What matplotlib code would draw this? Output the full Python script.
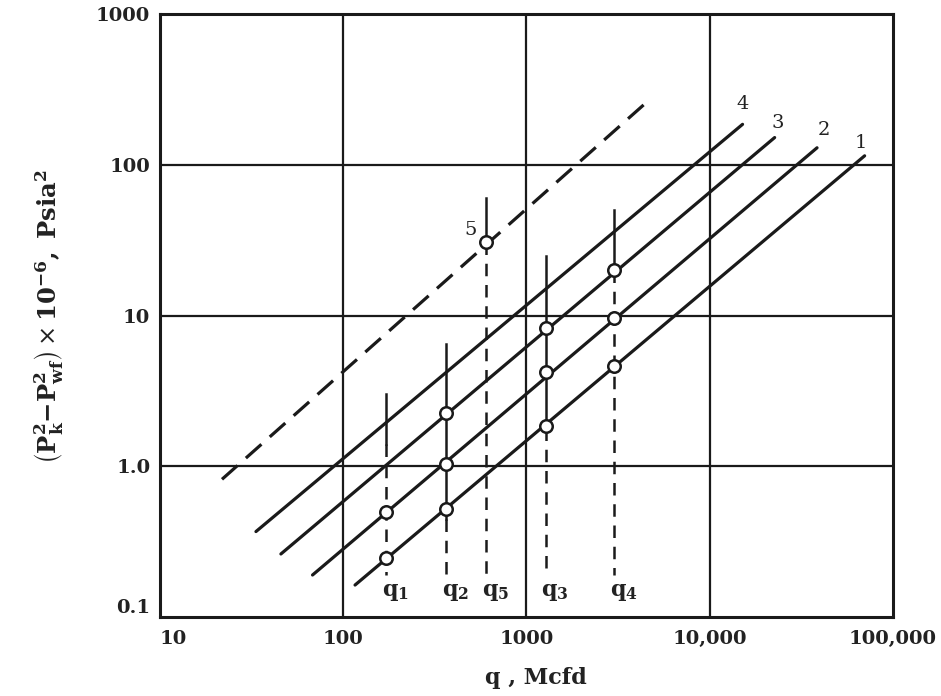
import matplotlib
matplotlib.use("Agg")
import matplotlib.pyplot as plt

# ---------------- data ----------------
x_ticks = [10, 100, 1000, 10000, 100000]
x_tick_labels = ['10', '100', '1000', '10,000', '100,000']
y_ticks = [0.1, 1, 10, 100, 1000]
y_tick_labels = ['0.1', '1.0', '10', '100', '1000']

# straight back-pressure lines 1-4: start and end (q, Mcfd ; p2-diff, 1e6 psia^2)
line_names = ['1', '2', '3', '4']
line_q_start = [116, 68, 45.7, 33.4]
line_p_start = [0.163, 0.19, 0.262, 0.369]
line_q_end = [70000, 38500, 22600, 15100]
line_p_end = [115, 130, 152, 186]
# dashed line 5
line5_q = [21.8, 4640]
line5_p = [0.82, 268]

# measured points (open circles)
pts_q = [172, 172, 366, 366, 366, 1270, 1270, 1270, 3020, 3020, 3020, 600]
pts_p = [0.245, 0.50, 0.52, 1.03, 2.27, 1.86, 4.2, 8.3, 4.6, 9.7, 20, 31]

# vertical rate markers q1..q5
rate_labels = ['1', '2', '5', '3', '4']
rate_q = [172, 366, 600, 1270, 3020]
rate_solid_top = [3.0, 6.5, 60, 25, 50]
rate_dash_top = [1.4, 0.45, 31, 1.8, 20]
rate_bottom = [0.19, 0.19, 0.19, 0.19, 0.19]

# ---------------- figure ----------------
plt.rcParams['mathtext.fontset'] = 'dejavuserif'
fig = plt.figure(figsize=(9.41, 6.96), dpi=100)
ax = fig.add_axes([0.170, 0.1135, 0.779, 0.866])
ax.set_xscale('log')
ax.set_yscale('log')
ax.set_xlim(10, 100000)
ax.set_ylim(0.1, 1000)

for s in ax.spines.values():
    s.set_linewidth(2.2)
    s.set_color('#1a1a1a')

for xv in x_ticks[1:-1]:
    ax.axvline(xv, color='#1a1a1a', lw=1.6, zorder=1)
for yv in y_ticks[1:-1]:
    ax.axhline(yv, color='#1a1a1a', lw=1.6, zorder=1)

ax.set_xticks(x_ticks)
ax.set_xticklabels(x_tick_labels)
ax.set_yticks(y_ticks)
ax.set_yticklabels(y_tick_labels)
ax.minorticks_off()
ax.tick_params(length=0, pad=9)
ax.tick_params(axis='y', pad=7)
for lab in ax.get_xticklabels() + ax.get_yticklabels():
    lab.set_fontfamily('DejaVu Serif')
    lab.set_fontweight('bold')
    lab.set_fontsize(14)
    lab.set_color('#222222')
ax.get_xticklabels()[0].set_ha('left')
ax.get_yticklabels()[0].set_va('bottom')

lc = '#1a1a1a'
for q0, p0, q1, p1 in zip(line_q_start, line_p_start, line_q_end, line_p_end):
    ax.plot([q0, q1], [p0, p1], color=lc, lw=2.3, solid_capstyle='round', zorder=3)
ax.plot(line5_q, line5_p, color=lc, lw=2.3, linestyle=(0, (6.5, 3.5)), zorder=3)

# vertical rate lines
for q, st, dt, bt in zip(rate_q, rate_solid_top, rate_dash_top, rate_bottom):
    ax.plot([q, q], [st, dt], color=lc, lw=1.8, zorder=2)
    ax.plot([q, q], [dt, bt], color=lc, lw=1.8, linestyle=(0, (5, 3.5)), zorder=2)

ax.plot(pts_q, pts_p, linestyle='none', marker='o', markersize=9,
        markerfacecolor='white', markeredgecolor=lc, markeredgewidth=1.8, zorder=5)

# q labels
for lab, q in zip(rate_labels, rate_q):
    ax.annotate(r'$\mathbf{q}_{\mathbf{%s}}$' % lab, (q, 0.19), xytext=(-3, -5),
                textcoords='offset points', ha='left', va='top', fontsize=16,
                color='#222222')

# line number labels
serif = dict(fontfamily='DejaVu Serif', fontsize=14, color='#222222',
             ha='center', va='bottom')
offsets = [(-3, 3), (5, 6), (2, 4), (0, 8)]
for name, q, p, off in zip(line_names, line_q_end, line_p_end, offsets):
    ax.annotate(name, (q, p), xytext=off, textcoords='offset points', **serif)
ax.annotate('5', (pts_q[-1], pts_p[-1]), xytext=(-11, 2), textcoords='offset points', **serif)

# axis labels
fig.text(0.569, 0.026, r'q , Mcfd', fontfamily='DejaVu Serif', fontweight='bold',
         fontsize=16, ha='center', va='center', color='#222222')
fig.text(0.052, 0.545,
         r'$\left(\mathbf{P}_{\mathbf{k}}^{\mathbf{2}}\mathbf{-}\mathbf{P}_{\mathbf{wf}}^{\mathbf{2}}\right)\times\mathbf{10}^{\mathbf{-6}}\mathbf{,\ Psia}^{\mathbf{2}}$',
         rotation=90, fontsize=17.5, ha='center', va='center', color='#222222')

fig.savefig('out.png', dpi=100, facecolor='white')
